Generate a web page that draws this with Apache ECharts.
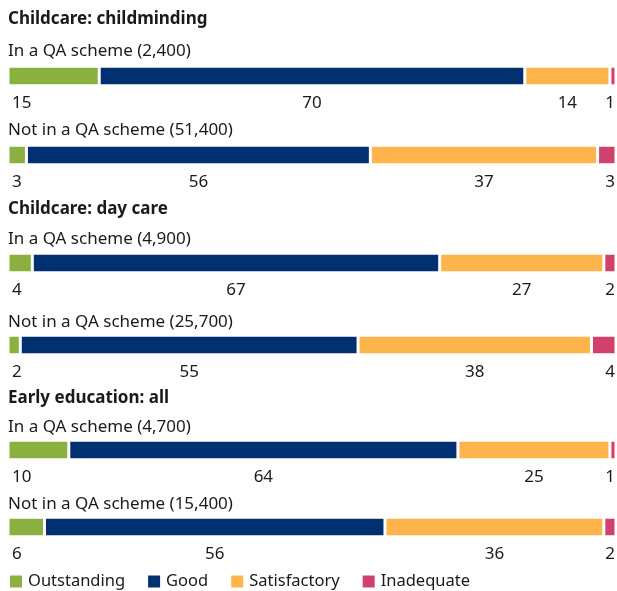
<!DOCTYPE html>
<html><head><meta charset="utf-8">
<script src="https://cdn.jsdelivr.net/npm/echarts@6/dist/echarts.min.js"></script>
<style>html,body{margin:0;padding:0;background:#fff}#c{width:617px;height:591px}</style>
</head><body><div id="c"></div>
<script>
const categories = ['Outstanding', 'Good', 'Satisfactory', 'Inadequate'];
const sections = ['Childcare: childminding', 'Childcare: day care', 'Early education: all'];
const rowLabels = ['In a QA scheme (2,400)', 'Not in a QA scheme (51,400)',
  'In a QA scheme (4,900)', 'Not in a QA scheme (25,700)',
  'In a QA scheme (4,700)', 'Not in a QA scheme (15,400)'];
const outstanding = [15, 3, 4, 2, 10, 6];
const good = [70, 56, 67, 55, 64, 56];
const satisfactory = [14, 37, 27, 38, 25, 36];
const inadequate = [1, 3, 2, 4, 1, 2];

const colors = ['#8AB13F', '#00306F', '#FDB44C', '#D0416B'];
const FONT = 'Noto Sans';
const seriesData = [outstanding, good, satisfactory, inadequate];

const barTops = [67, 146, 254, 336, 441, 518];
const subTops = [38, 117, 226, 309, 414, 491];
const secTops = [6, 196, 385];
const barH = 18;
const lblGap = 9;

const grids = [], xAxes = [], yAxes = [], series = [], titles = [];
sections.forEach((s, i) => titles.push({
  text: s, left: 3, top: secTops[i],
  textStyle: {fontFamily: FONT, fontSize: 17, fontWeight: 'bold', color: '#1a1a1a'}
}));
rowLabels.forEach((r, i) => titles.push({
  text: r, left: 3, top: subTops[i],
  textStyle: {fontFamily: FONT, fontSize: 17, fontWeight: 'normal', color: '#1a1a1a'}
}));

for (let i = 0; i < 6; i++) {
  const total = outstanding[i] + good[i] + satisfactory[i] + inadequate[i];
  grids.push({left: 8, right: 1, top: barTops[i], height: barH});
  xAxes.push({type: 'value', gridIndex: i, min: 0, max: total, show: false});
  yAxes.push({type: 'category', gridIndex: i, data: [''], show: false});
  seriesData.forEach((arr, k) => {
    let label;
    const base = {show: true, fontFamily: FONT, fontSize: 17, color: '#1a1a1a'};
    if (k === 0) label = Object.assign({}, base, {position: [4, '100%'], offset: [0, lblGap], align: 'left', verticalAlign: 'top'});
    else if (k === 3) label = Object.assign({}, base, {position: ['100%', '100%'], offset: [-1, lblGap], align: 'right', verticalAlign: 'top'});
    else label = Object.assign({}, base, {position: 'bottom', distance: lblGap});
    series.push({
      type: 'bar', name: categories[k], xAxisIndex: i, yAxisIndex: i, stack: 's' + i,
      data: [arr[i]], barWidth: barH + 2,
      itemStyle: {color: colors[k], borderColor: '#fff', borderWidth: 1.5},
      label: label, silent: true, animation: false
    });
  });
}

const chart = echarts.init(document.getElementById('c'));
chart.setOption({
  animation: false,
  title: titles,
  grid: grids, xAxis: xAxes, yAxis: yAxes, series: series,
  legend: {
    data: categories, left: 3, top: 568, itemWidth: 14, itemHeight: 14, itemGap: 21,
    icon: 'rect', selectedMode: false,
    textStyle: {fontFamily: FONT, fontSize: 16.5, color: '#1a1a1a'}
  }
});
</script></body></html>
